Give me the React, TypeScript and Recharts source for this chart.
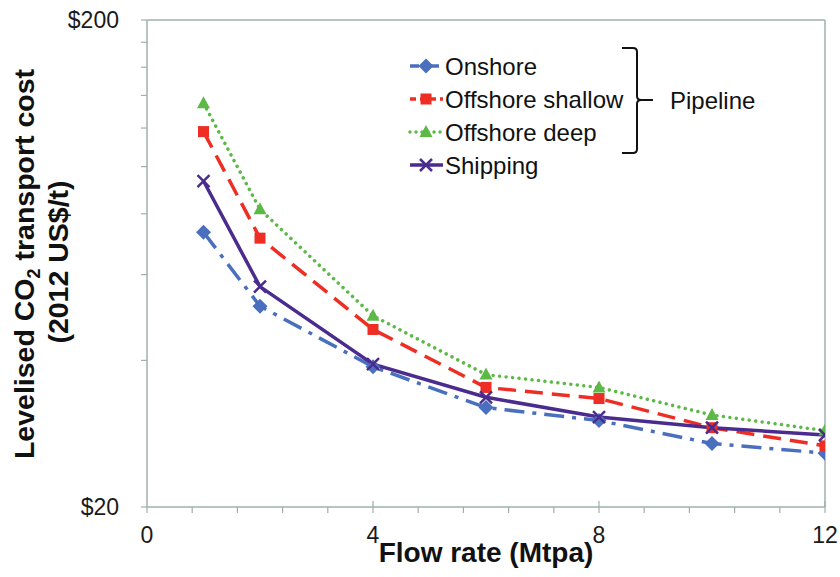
import React from 'react';
import { LineChart, Line, XAxis, YAxis, ReferenceLine } from 'recharts';

const flowRates = [1, 2, 4, 6, 8, 10, 12];
const onshore = [73.3, 51.7, 38.8, 32.0, 30.1, 27.0, 25.8];
const offshoreShallow = [118, 71.3, 46.3, 35.2, 33.4, 29.1, 26.7];
const offshoreDeep = [135, 81.7, 49.4, 37.4, 35.2, 30.9, 28.7];
const shipping = [93.4, 56.7, 39.3, 33.6, 30.6, 29.1, 28.1];

const xTicks = [0, 0.8, 1.6, 2.4, 3.2, 4, 4.8, 5.6, 6.4, 7.2, 8, 8.8, 9.6, 10.4, 11.2, 12];
const xLabelTicks = [0, 4, 8, 12];
const yTicks = [20, 40, 60, 80, 100, 120, 140, 160, 180, 200];
const yLabelTicks = [20, 200];

const seriesNames = ['Onshore', 'Offshore shallow', 'Offshore deep', 'Shipping'];

const data = flowRates.map((x, i) => ({
  x,
  onshore: onshore[i],
  shallow: offshoreShallow[i],
  deep: offshoreDeep[i],
  shipping: shipping[i],
}));

const BLUE = '#4a6fbf';
const RED = '#ee2e24';
const GREEN = '#5cb946';
const PURPLE = '#4a2b8e';
const AXIS = '#9fb0ae';
const FONT = '"Liberation Sans", Arial, sans-serif';

const Diamond = (p: any) => {
  const { cx, cy } = p;
  if (cx == null || cy == null) return <g key={p.key} />;
  const s = 7.5;
  return (
    <polygon key={`d${p.index}`} points={`${cx},${cy - s} ${cx + s},${cy} ${cx},${cy + s} ${cx - s},${cy}`} fill={BLUE} />
  );
};
const Square = (p: any) => {
  const { cx, cy } = p;
  if (cx == null || cy == null) return <g key={p.key} />;
  return <rect key={`s${p.index}`} x={cx - 5.5} y={cy - 5.5} width={11} height={11} fill={RED} />;
};
const Triangle = (p: any) => {
  const { cx, cy } = p;
  if (cx == null || cy == null) return <g key={p.key} />;
  return (
    <polygon key={`t${p.index}`} points={`${cx},${cy - 7} ${cx + 6.5},${cy + 5} ${cx - 6.5},${cy + 5}`} fill={GREEN} />
  );
};
const Cross = (p: any) => {
  const { cx, cy } = p;
  if (cx == null || cy == null) return <g key={p.key} />;
  const s = 6;
  return (
    <g key={`x${p.index}`} stroke={PURPLE} strokeWidth={2.5}>
      <line x1={cx - s} y1={cy - s} x2={cx + s} y2={cy + s} />
      <line x1={cx - s} y1={cy + s} x2={cx + s} y2={cy - s} />
    </g>
  );
};

const XTick = (p: any) => {
  const { x, y, payload } = p;
  const v = payload.value;
  const isLabel = xLabelTicks.some((t) => Math.abs(t - v) < 1e-6);
  const isMajor = isLabel && v !== 0;
  return (
    <g>
      <line x1={x} x2={x} y1={isMajor ? y - 6 : y} y2={y + 6} stroke={AXIS} strokeWidth={1.2} />
      {isLabel && (
        <text x={x} y={y + 36} textAnchor="middle" fontSize={23} fill="#1a1a1a" fontFamily={FONT}>
          {Math.round(v)}
        </text>
      )}
    </g>
  );
};

const legendRows = [
  { name: seriesNames[0], color: BLUE, dash: '9 4 3 4', y: 66, marker: 'diamond' },
  { name: seriesNames[1], color: RED, dash: '6 4', y: 99, marker: 'square' },
  { name: seriesNames[2], color: GREEN, dash: '0.01 6', y: 132, marker: 'triangle' },
  { name: seriesNames[3], color: PURPLE, dash: undefined, y: 165, marker: 'cross' },
];

const LegendMarker = ({ kind, cx, cy }: any) => {
  if (kind === 'diamond') return Diamond({ cx, cy, index: 'l' });
  if (kind === 'square') return Square({ cx, cy, index: 'l' });
  if (kind === 'triangle') return Triangle({ cx, cy, index: 'l' });
  return Cross({ cx, cy, index: 'l' });
};

export default function App() {
  return (
    <div style={{ position: 'absolute', left: 0, top: 0, width: 840, height: 577, background: '#fff' }}>
      <LineChart width={840} height={577} data={data} margin={{ top: 20, right: 15, left: 0, bottom: 0 }}>
        <XAxis
          dataKey="x"
          type="number"
          domain={[0, 12]}
          ticks={xTicks}
          interval={0}
          height={70}
          tickSize={0}
          tickMargin={0}
          tick={<XTick />}
          axisLine={{ stroke: AXIS, strokeWidth: 1.5 }}
          allowDataOverflow
        />
        <YAxis
          type="number"
          scale="log"
          domain={[20, 200]}
          ticks={yTicks}
          interval={0}
          width={147}
          allowDataOverflow
          tickSize={6}
          tickMargin={22}
          tickLine={{ stroke: AXIS, strokeWidth: 1.2 }}
          axisLine={{ stroke: AXIS, strokeWidth: 1.5 }}
          tick={{ fontSize: 23, fill: '#1a1a1a', fontFamily: FONT }}
          tickFormatter={(v: number) => (yLabelTicks.includes(v) ? `$${v}` : '')}
        />
        <ReferenceLine y={200} stroke={AXIS} strokeWidth={1.5} />
        <ReferenceLine x={12} stroke={AXIS} strokeWidth={1.5} />
        <Line
          dataKey="onshore"
          name={seriesNames[0]}
          stroke={BLUE}
          strokeWidth={3.5}
          strokeDasharray="20 8 4 8"
          dot={Diamond}
          activeDot={false}
          isAnimationActive={false}
          type="linear"
        />
        <Line
          dataKey="shallow"
          name={seriesNames[1]}
          stroke={RED}
          strokeWidth={3.5}
          strokeDasharray="18 9"
          dot={Square}
          activeDot={false}
          isAnimationActive={false}
          type="linear"
        />
        <Line
          dataKey="deep"
          name={seriesNames[2]}
          stroke={GREEN}
          strokeWidth={3.5}
          strokeDasharray="0.01 6.5"
          strokeLinecap="round"
          dot={Triangle}
          activeDot={false}
          isAnimationActive={false}
          type="linear"
        />
        <Line
          dataKey="shipping"
          name={seriesNames[3]}
          stroke={PURPLE}
          strokeWidth={3.5}
          dot={Cross}
          activeDot={false}
          isAnimationActive={false}
          type="linear"
        />
      </LineChart>
      <svg
        width={840}
        height={577}
        style={{ position: 'absolute', left: 0, top: 0, pointerEvents: 'none' }}
        fontFamily={FONT}
      >
        {legendRows.map((r) => (
          <g key={r.name}>
            <line
              x1={410}
              x2={443}
              y1={r.y}
              y2={r.y}
              stroke={r.color}
              strokeWidth={3.5}
              strokeDasharray={r.dash}
              strokeLinecap={r.marker === 'triangle' ? 'round' : 'butt'}
            />
            <LegendMarker kind={r.marker} cx={426} cy={r.y} />
            <text x={445} y={r.y + 8.5} fontSize={24} fill="#111">
              {r.name}
            </text>
          </g>
        ))}
        <path
          d="M622,48 L633,48 Q637,48 637,52 L637,96 Q637,100 641,100 L653,100 M641,100 Q637,100 637,104 L637,149 Q637,153 633,153 L622,153"
          fill="none"
          stroke="#111"
          strokeWidth={2}
        />
        <text x={670} y={108.5} fontSize={24} fill="#111">
          Pipeline
        </text>
        <text
          transform="translate(34,264) rotate(-90)"
          textAnchor="middle"
          fontSize={28.5}
          fontWeight="bold"
          fill="#111"
        >
          Levelised CO
          <tspan fontSize={18} dy={6}>2</tspan>
          <tspan dy={-6}> transport cost</tspan>
        </text>
        <text
          transform="translate(68,262) rotate(-90)"
          textAnchor="middle"
          fontSize={28.5}
          fontWeight="bold"
          fill="#111"
        >
          (2012 US$/t)
        </text>
        <text x={486} y={562} textAnchor="middle" fontSize={28} fontWeight="bold" fill="#111">
          Flow rate (Mtpa)
        </text>
      </svg>
    </div>
  );
}
